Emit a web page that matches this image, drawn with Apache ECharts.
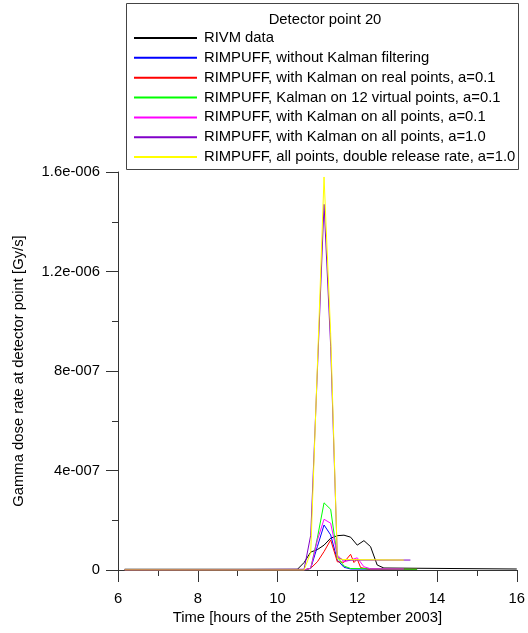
<!DOCTYPE html>
<html>
<head>
<meta charset="utf-8">
<script src="https://cdn.jsdelivr.net/npm/echarts@6/dist/echarts.min.js"></script>
<style>
html,body{margin:0;padding:0;background:#fff;}
#c{width:528px;height:633px;}
</style>
</head>
<body>
<div id="c"></div>
<script>
// ---- data (time in hours, dose rate in Gy/s) ----
const chartTitle = 'Detector point 20';
const seriesNames = [
  'RIVM data',
  'RIMPUFF, without Kalman filtering',
  'RIMPUFF, with Kalman on real points, a=0.1',
  'RIMPUFF, Kalman on 12 virtual points, a=0.1',
  'RIMPUFF, with Kalman on all points, a=0.1',
  'RIMPUFF, with Kalman on all points, a=1.0',
  'RIMPUFF, all points, double release rate, a=1.0'
];
const rivmT = [6.167, 10.5, 10.667, 10.833, 11.0, 11.167, 11.333, 11.5, 11.667, 11.833, 12.0, 12.167, 12.333, 12.5, 12.667, 16.0];
const rivmV = [0.003e-6, 0.003e-6, 0.03e-6, 0.072e-6, 0.082e-6, 0.1e-6, 0.128e-6, 0.138e-6, 0.14e-6, 0.132e-6, 0.1e-6, 0.118e-6, 0.094e-6, 0.02e-6, 0.008e-6, 0.004e-6];
const noKalmanT = [6.167, 10.667, 10.833, 11.0, 11.167, 11.333, 11.5, 11.667, 11.833, 13.5];
const noKalmanV = [0, 0, 0.007e-6, 0.094e-6, 0.181e-6, 0.141e-6, 0.04e-6, 0.011e-6, 0.004e-6, 0.002e-6];
const realPtsT = [6.167, 10.667, 10.833, 11.0, 11.167, 11.333, 11.5, 11.667, 11.833, 11.917, 12.0, 12.083, 12.25, 13.5];
const realPtsV = [0, 0, 0.007e-6, 0.033e-6, 0.074e-6, 0.121e-6, 0.033e-6, 0.031e-6, 0.063e-6, 0.03e-6, 0.044e-6, 0.01e-6, 0.004e-6, 0.003e-6];
const virtualT = [6.167, 10.667, 10.833, 11.0, 11.167, 11.333, 11.5, 11.667, 11.833, 13.5];
const virtualV = [0, 0, 0.007e-6, 0.129e-6, 0.27e-6, 0.244e-6, 0.053e-6, 0.016e-6, 0.006e-6, 0.003e-6];
const allA01T = [6.167, 10.667, 10.833, 11.0, 11.167, 11.333, 11.5, 11.667, 11.833, 12.0, 12.167, 12.333, 13.167];
const allA01V = [0, 0, 0.007e-6, 0.12e-6, 0.204e-6, 0.188e-6, 0.06e-6, 0.033e-6, 0.04e-6, 0.049e-6, 0.013e-6, 0.005e-6, 0.004e-6];
const allA10T = [6.167, 10.667, 10.833, 11.0, 11.167, 11.333, 11.5, 11.667, 13.333];
const allA10V = [0, 0.003e-6, 0.14e-6, 0.8e-6, 1.47e-6, 0.9e-6, 0.05e-6, 0.04e-6, 0.04e-6];
const doubleT = [6.167, 10.667, 10.833, 11.0, 11.167, 11.333, 11.5, 11.667, 13.167];
const doubleV = [0, 0, 0.07e-6, 0.82e-6, 1.58e-6, 0.95e-6, 0.045e-6, 0.042e-6, 0.04e-6];
const yTickLabels = ['0', '4e-007', '8e-007', '1.2e-006', '1.6e-006'];
const xAxisName = 'Time [hours of the 25th September 2003]';
const yAxisName = 'Gamma dose rate at detector point [Gy/s]';

// ---- styling ----
const colors = ['#000000', '#0000ff', '#ff0000', '#00ff00', '#ff00ff', '#8000c8', '#ffff00'];
const FONT = "'Liberation Sans', Arial, sans-serif";
const FS = 14.8;
const seriesT = [rivmT, noKalmanT, realPtsT, virtualT, allA01T, allA10T, doubleT];
const seriesV = [rivmV, noKalmanV, realPtsV, virtualV, allA01V, allA10V, doubleV];

const series = seriesNames.map((name, i) => ({
  name: name,
  type: 'line',
  symbol: 'none',
  animation: false,
  lineStyle: { width: 1, color: colors[i] },
  itemStyle: { color: colors[i] },
  data: seriesT[i].map((t, k) => [t, seriesV[i][k]])
}));

const chart = echarts.init(document.getElementById('c'), null, { renderer: 'canvas' });
chart.setOption({
  animation: false,
  backgroundColor: '#ffffff',
  textStyle: { fontFamily: FONT },
  title: {
    text: chartTitle,
    left: 325,
    textAlign: 'center',
    top: 12.5,
    padding: 0,
    textStyle: { fontFamily: FONT, fontSize: FS, fontWeight: 'normal', color: '#000' }
  },
  graphic: [{
    type: 'rect',
    z: -1,
    shape: { x: 126.5, y: 3.5, width: 392, height: 166 },
    style: { fill: '#fff', stroke: '#444', lineWidth: 1 }
  }],
  legend: {
    orient: 'vertical',
    left: 133,
    top: 30,
    padding: 0,
    itemWidth: 63,
    itemHeight: 16,
    itemGap: 3.85,
    selectedMode: false,
    itemStyle: { opacity: 0 },
    textStyle: { fontFamily: FONT, fontSize: FS, lineHeight: 16, color: '#000', padding: [0, 0, 0, 2] },
    data: seriesNames
  },
  grid: { left: 118, right: 10.3, top: 172, bottom: 63, containLabel: false },
  xAxis: {
    type: 'value',
    min: 6, max: 16, interval: 2,
    name: xAxisName,
    nameLocation: 'middle',
    nameGap: 40,
    nameTextStyle: { fontFamily: FONT, fontSize: FS, color: '#000', padding: [0, 20, 0, 0] },
    axisLine: { show: true, onZero: false, lineStyle: { color: '#333', width: 1 } },
    axisTick: { show: true, inside: false, length: 12, lineStyle: { color: '#333' } },
    minorTick: { show: true, splitNumber: 2, length: 6, lineStyle: { color: '#333' } },
    splitLine: { show: false },
    axisLabel: { margin: 21, fontFamily: FONT, fontSize: FS, color: '#000' }
  },
  yAxis: {
    type: 'value',
    min: 0, max: 1.6e-6, interval: 4e-7,
    name: yAxisName,
    nameLocation: 'middle',
    nameGap: 92,
    nameRotate: 90,
    nameTextStyle: { fontFamily: FONT, fontSize: FS, color: '#000' },
    axisLine: { show: true, lineStyle: { color: '#333', width: 1 } },
    axisTick: { show: true, inside: false, length: 12, lineStyle: { color: '#333' } },
    minorTick: { show: true, splitNumber: 2, length: 6, lineStyle: { color: '#333' } },
    splitLine: { show: false },
    axisLabel: {
      margin: 18,
      fontFamily: FONT, fontSize: FS, color: '#000',
      formatter: function (v) { return yTickLabels[Math.round(v / 4e-7)]; }
    }
  },
  series: series
});
</script>
</body>
</html>
